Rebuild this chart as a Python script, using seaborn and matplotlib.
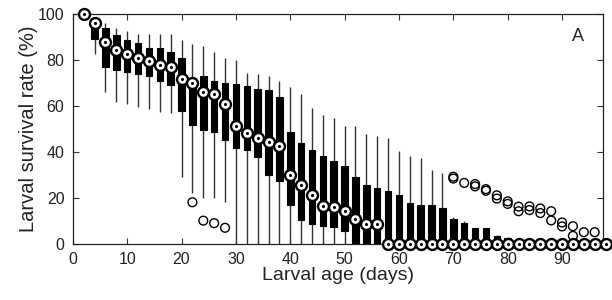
import pandas as pd
import matplotlib
matplotlib.use('Agg')
import matplotlib.pyplot as plt
import seaborn as sns

# valores (supervivencia larval, %)
days = [2, 4, 6, 8, 10, 12, 14, 16, 18, 20, 22, 24, 26, 28, 30, 32, 34, 36, 38, 40,
        42, 44, 46, 48, 50, 52, 54, 56, 58, 60, 62, 64, 66, 68, 70, 72, 74, 76, 78, 80,
        82, 84, 86, 88, 90, 92, 94, 96, 98]

whisker_low = [100, 82.6, 66.1, 61.6, 60.9, 59.4, 58.7, 57.5, 57, 29, 22.2, 20, 20, 18.1, 0, 0, 0, 0, 0, 0,
               0, 0, 0, 0, 0, 0, 0, 0, 0, 0, 0, 0, 0, 0, 0, 0, 0, 0, 0, 0,
               0, 0, 0, 0, 0, 0, 0, 0, 0]
q1 = [100, 89.2, 76.7, 75.5, 74.6, 73.9, 72.9, 71, 69.2, 57.6, 51.5, 49.3, 48.7, 45.3, 41.7, 40.8, 37.7, 30.1, 27.2, 16.8,
      10.6, 8.8, 7.7, 7.2, 5.8, 0, 0, 0, 0, 0, 0, 0, 0, 0, 0, 0, 0, 0, 0, 0,
      0, 0, 0, 0, 0, 0, 0, 0, 0]
median = [100, 96, 87.6, 84.2, 82.6, 80.6, 79.4, 77.9, 76.7, 71.8, 69.9, 66.1, 65.2, 61, 51.1, 48, 46.1, 44.3, 42.4, 30.1,
          25.5, 21.1, 16.6, 16.1, 14.5, 11, 8.8, 8.8, 0, 0, 0, 0, 0, 0, 0, 0, 0, 0, 0, 0,
          0, 0, 0, 0, 0, 0, 0, 0, 0]
q3 = [100, 94, 94, 91, 88.8, 87.1, 85.2, 85, 83.5, 81, 72, 72.9, 71, 70, 69.7, 68.5, 67.4, 66.7, 63.8, 48.5,
      43.9, 40.7, 38.4, 35.9, 34, 29, 25.8, 24.3, 22.8, 21.4, 17.8, 17.1, 17.1, 15.6, 11, 9.1, 6.8, 6.8, 3.4, 2.5,
      0, 0, 0, 0, 0, 0, 0, 0, 0]
whisker_high = [100, 97, 95.8, 94, 92.4, 91.4, 91.3, 91.3, 91.4, 88.4, 87, 85.9, 83.5, 80.9, 80, 74.1, 74, 73.1, 70.7, 68.4,
                65, 59.1, 55.9, 54.5, 51.1, 51.1, 47.8, 47, 46, 40.5, 38.4, 37.4, 32, 31, 11.6, 9.9, 6.8, 6.8, 4, 3,
                0, 0, 0, 0, 0, 0, 0, 0, 0]

outlier_days = [22, 24, 26, 28, 70, 70, 72, 74, 74, 76, 76, 78, 78, 80, 80, 82, 82, 84, 84,
                86, 86, 88, 88, 90, 90, 92, 92, 94, 96]
outlier_vals = [18.1, 10.1, 9, 7, 29.2, 28.4, 26.5, 26, 25, 23.8, 23.1, 21.1, 19.7, 18.5, 17.4, 16.2, 14.2, 16.3, 14.7,
                15.4, 13.4, 14.2, 10.2, 9.3, 7.6, 7.7, 3.5, 5.1, 5.1]

# tabla larga: cinco valores por dia -> cuartiles exactos con whis=(0, 100)
rows = []
for i, d in enumerate(days):
    for v in [whisker_low[i], q1[i], median[i], q3[i], whisker_high[i]]:
        rows.append({'edad': d, 'supervivencia': v})
data = pd.DataFrame(rows)
med = pd.DataFrame({'edad': days, 'supervivencia': median})
out = pd.DataFrame({'edad': outlier_days, 'supervivencia': outlier_vals})

sns.set_style('ticks')
plt.rcParams['font.family'] = ['Liberation Sans', 'DejaVu Sans']

fig = plt.figure(figsize=(6.12, 3.0), dpi=100)
ax = fig.add_axes([0.119, 0.187, 0.866, 0.767])

sns.boxplot(data=data, x='edad', y='supervivencia', native_scale=True, orient='x',
            whis=(0, 100), showfliers=False, showcaps=False, width=0.6, ax=ax,
            boxprops=dict(facecolor='black', edgecolor='black', linewidth=0.8),
            whiskerprops=dict(color='#333333', linewidth=1.0),
            medianprops=dict(visible=False))

sns.scatterplot(data=out, x='edad', y='supervivencia', ax=ax, marker='o', s=40,
                facecolor='none', edgecolor='black', linewidth=1.0, zorder=4, clip_on=False)
sns.scatterplot(data=med, x='edad', y='supervivencia', ax=ax, marker='o', s=62,
                color='white', edgecolor='black', linewidth=1.7, zorder=5, clip_on=False)
sns.scatterplot(data=med, x='edad', y='supervivencia', ax=ax, marker='o', s=5,
                color='black', edgecolor='black', linewidth=0, zorder=6, clip_on=False)

ax.set_xlim(0, 97.5)
ax.set_ylim(0, 100)
ax.set_xticks([0, 10, 20, 30, 40, 50, 60, 70, 80, 90])
ax.set_yticks([0, 20, 40, 60, 80, 100])
ax.tick_params(direction='in', top=True, right=True, length=4, labelsize=11.5,
               color='#333333', labelcolor='#222222', pad=6)
for s in ax.spines.values():
    s.set_color('#222222')
    s.set_linewidth(0.9)
ax.set_xlabel('Larval age (days)', fontsize=14, labelpad=0, color='#222222')
ax.set_ylabel('Larval survival rate (%)', fontsize=14.5, labelpad=0, color='#222222')
ax.text(0.953, 0.9, 'A', transform=ax.transAxes, ha='center', va='center', fontsize=13)

fig.savefig('out.png', dpi=100)
